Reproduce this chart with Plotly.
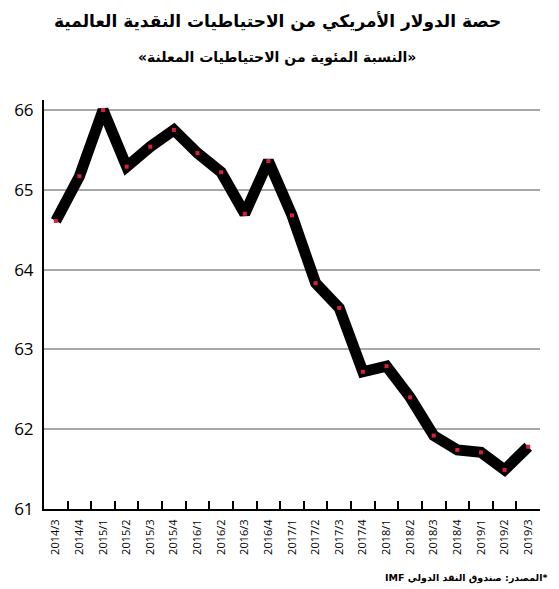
import plotly.graph_objects as go

quarters = ["2014/3", "2014/4", "2015/1", "2015/2", "2015/3", "2015/4",
            "2016/1", "2016/2", "2016/3", "2016/4", "2017/1", "2017/2",
            "2017/3", "2017/4", "2018/1", "2018/2", "2018/3", "2018/4",
            "2019/1", "2019/2", "2019/3"]
usd_share = [64.61, 65.17, 66.00, 65.29, 65.54, 65.75,
             65.46, 65.22, 64.70, 65.36, 64.68, 63.83,
             63.52, 62.72, 62.79, 62.40, 61.92, 61.74,
             61.71, 61.49, 61.78]
y_ticks = [61, 62, 63, 64, 65, 66]

title = "حصة الدولار الأمريكي من الاحتياطيات النقدية العالمية"
subtitle = "«النسبة المئوية من الاحتياطيات المعلنة»"
# ordered so that, laid out left to right, "IMF" sits at the left and "*" at the right
source = "IMF المصدر: صندوق النقد الدولي*"

fig = go.Figure()
fig.add_trace(go.Scatter(
    x=quarters, y=usd_share, mode="lines",
    line=dict(color="black", width=11),
    hoverinfo="skip", showlegend=False,
))
fig.add_trace(go.Scatter(
    x=quarters, y=usd_share, mode="markers",
    marker=dict(color="#d8203a", size=4, symbol="square"),
    showlegend=False,
))

fig.update_layout(
    width=559, height=589,
    margin=dict(l=44, r=19, t=100, b=80),
    paper_bgcolor="white", plot_bgcolor="white",
    font=dict(family="Open Sans, DejaVu Sans", color="black"),
    xaxis=dict(
        type="category", range=[-0.5, len(quarters) - 0.5],
        tickson="boundaries", ticks="inside", ticklen=8, tickwidth=1.5,
        tickcolor="black", showline=True, linecolor="black", linewidth=2,
        showgrid=False, tickangle=-90, tickfont=dict(size=11),
        ticklabelstandoff=4,
    ),
    yaxis=dict(
        range=[61, 66.125], tickvals=y_ticks, ticks="",
        showline=True, linecolor="black", linewidth=2,
        showgrid=True, gridcolor="#a8a8a8", gridwidth=1.5,
        zeroline=False, tickfont=dict(size=17), ticklabelstandoff=5,
    ),
    annotations=[
        dict(text="<b>" + title + "</b>", xref="paper", yref="paper",
             x=0.47, y=1.191, xanchor="center", yanchor="middle",
             showarrow=False, font=dict(size=17, family="DejaVu Sans")),
        dict(text="<b>" + subtitle + "</b>", xref="paper", yref="paper",
             x=0.47, y=1.103, xanchor="center", yanchor="middle",
             showarrow=False, font=dict(size=14, family="DejaVu Sans")),
        dict(text="<b>" + source + "</b>", xref="paper", yref="paper",
             x=1.018, y=-0.168, xanchor="right", yanchor="middle",
             showarrow=False, font=dict(size=9.5, family="DejaVu Sans")),
    ],
)

fig.write_html("out.html", config={"displayModeBar": False},
               post_script="document.body.style.margin='0px';")
